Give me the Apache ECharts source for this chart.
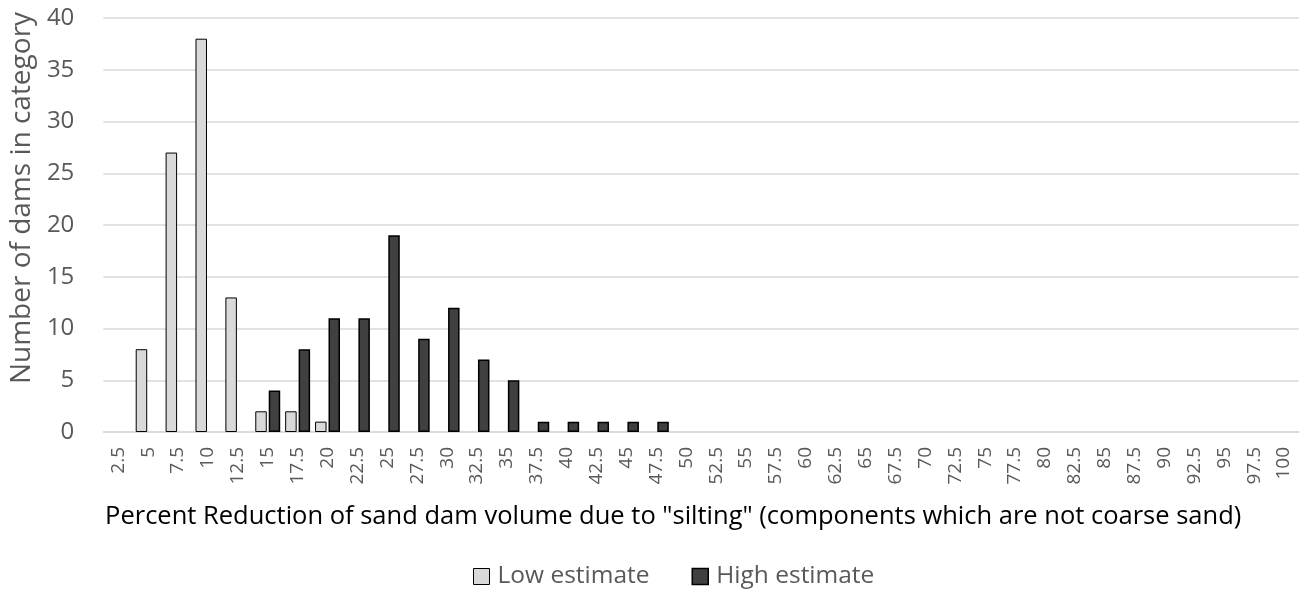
<!DOCTYPE html>
<html><head><meta charset="utf-8">
<script src="https://cdn.jsdelivr.net/npm/echarts@6/dist/echarts.min.js"></script>
<style>html,body{margin:0;padding:0;background:#fff}#c{width:1302px;height:592px}</style>
</head><body><div id="c"></div>
<script>
const categories = ['2.5','5','7.5','10','12.5','15','17.5','20','22.5','25','27.5','30','32.5','35','37.5','40','42.5','45','47.5','50','52.5','55','57.5','60','62.5','65','67.5','70','72.5','75','77.5','80','82.5','85','87.5','90','92.5','95','97.5','100'];
const lowEstimate  = [0,8,27,38,13,2,2,1,0,0,0,0,0,0,0,0,0,0,0,0,0,0,0,0,0,0,0,0,0,0,0,0,0,0,0,0,0,0,0,0];
const highEstimate = [0,0,0,0,0,4,8,11,11,19,9,12,7,5,1,1,1,1,1,0,0,0,0,0,0,0,0,0,0,0,0,0,0,0,0,0,0,0,0,0];
const yTicks = {min:0, max:40, interval:5};
const FONT = '"Open Sans", sans-serif';
// zero-count bins are not drawn (as in the original)
const hideZero = arr => arr.map(v => v === 0 ? '-' : v);
const chart = echarts.init(document.getElementById('c'));
chart.setOption({
  animation:false,
  textStyle:{fontFamily:FONT},
  grid:{left:102, right:3, top:18, bottom:160, containLabel:false},
  legend:{
    top:559, left:468, itemWidth:16, itemHeight:16, itemGap:42, icon:'rect',
    textStyle:{fontSize:24.5, color:'#595959', fontFamily:FONT, padding:[0,0,0,3]},
    data:[{name:'Low estimate', itemStyle:{color:'#d9d9d9', borderColor:'#000', borderWidth:1}},
          {name:'High estimate', itemStyle:{color:'#404040', borderColor:'#000', borderWidth:1.5}}]
  },
  xAxis:{
    type:'category', data:categories,
    axisLine:{lineStyle:{color:'#d9d9d9', width:1.5}},
    axisTick:{show:false},
    axisLabel:{rotate:90, fontSize:19, color:'#595959', margin:15, interval:0, fontFamily:FONT},
    name:'Percent Reduction of sand dam volume due to "silting" (components which are not coarse sand)',
    nameLocation:'middle', nameGap:72,
    nameTextStyle:{fontSize:25.5, color:'#000', fontFamily:FONT, lineHeight:26, padding:[0,56,0,0]}
  },
  yAxis:{
    type:'value', min:yTicks.min, max:yTicks.max, interval:yTicks.interval,
    axisLine:{show:false}, axisTick:{show:false},
    splitLine:{lineStyle:{color:'#d9d9d9', width:1.5}},
    axisLabel:{fontSize:24, color:'#595959', margin:29, fontFamily:FONT},
    name:'Number of dams in category', nameLocation:'middle', nameGap:67, nameRotate:90,
    nameTextStyle:{fontSize:28, color:'#595959', fontFamily:FONT, padding:[0,0,0,54]}
  },
  series:[
    {name:'Low estimate', type:'bar', data:hideZero(lowEstimate), barWidth:11.5, barGap:'17%',
     itemStyle:{color:'#d9d9d9', borderColor:'#000', borderWidth:1}},
    {name:'High estimate', type:'bar', data:hideZero(highEstimate), barWidth:11.5,
     itemStyle:{color:'#404040', borderColor:'#000', borderWidth:1.5}}
  ]
});
</script></body></html>
